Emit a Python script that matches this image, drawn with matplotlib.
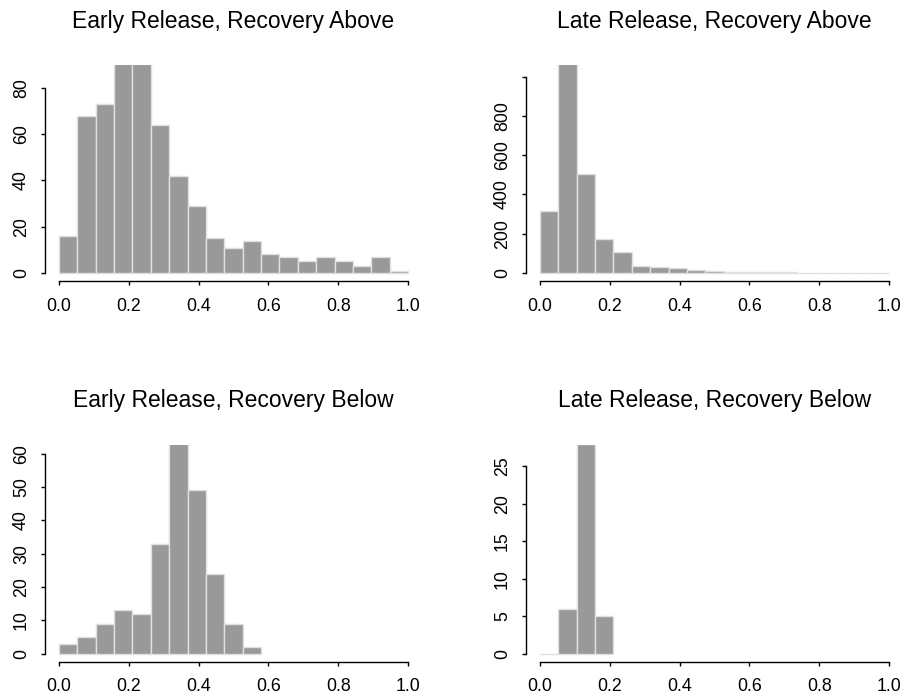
import numpy as np
import matplotlib
matplotlib.use('Agg')
import matplotlib.pyplot as plt

plt.rcParams['font.family'] = ['Liberation Sans', 'DejaVu Sans']

# 19 equal bins on [0, 1]
n_bins = 19
bin_edges = np.linspace(0, 1, n_bins + 1)

titles = [
    'Early Release, Recovery Above',
    'Late Release, Recovery Above',
    'Early Release, Recovery Below',
    'Late Release, Recovery Below',
]

counts_early_above = [16, 68, 73, 95, 94, 64, 42, 29, 15, 11, 14, 8, 7, 5, 7, 5, 3, 7, 1]
counts_late_above = [315, 1080, 502, 175, 105, 37, 32, 25, 17, 12, 7, 7, 7, 3, 1, 1, 0, 1, 0]
counts_early_below = [3, 5, 9, 13, 12, 33, 65, 49, 24, 9, 2]
counts_late_below = [0, 6, 28, 5]

yticks_early_above = [0, 20, 40, 60, 80]
yticks_late_above = [0, 200, 400, 600, 800, 1000]
ylabels_late_above = ['0', '200', '400', '600', '800', '']
yticks_early_below = [0, 10, 20, 30, 40, 50, 60]
yticks_late_below = [0, 5, 10, 15, 20, 25]
xticks = [0.0, 0.2, 0.4, 0.6, 0.8, 1.0]

panels = [
    (counts_early_above, yticks_early_above, None, 86.4),
    (counts_late_above, yticks_late_above, ylabels_late_above, 1019),
    (counts_early_below, yticks_early_below, None, 60.3),
    (counts_late_below, yticks_late_below, None, 26.8),
]

W, H = 905, 700
# plot regions in pixels: left, right, top, bottom
boxes = [
    (45, 422, 65, 281),
    (526, 903, 65, 281),
    (45, 422, 444.7, 661.7),
    (526, 903, 444.7, 661.7),
]

fig = plt.figure(figsize=(W / 100, H / 100), dpi=100)

for (counts, yt, ylab, ymax), (l, r, t, b), title in zip(panels, boxes, titles):
    ax = fig.add_axes([l / W, 1 - b / H, (r - l) / W, (b - t) / H])
    k = len(counts)
    ax.bar(bin_edges[:k], counts, width=np.diff(bin_edges)[:k], align='edge',
           color='#999999', edgecolor='#e0e0e0', linewidth=1.0)
    ax.set_xlim(-0.04, 1.04)
    ax.set_ylim(-0.04 * ymax, 1.04 * ymax)
    for s in ['top', 'right']:
        ax.spines[s].set_visible(False)
    ax.spines['left'].set_bounds(yt[0], yt[-1])
    ax.spines['bottom'].set_bounds(0, 1)
    for s in ['left', 'bottom']:
        ax.spines[s].set_linewidth(1.0)
    ax.set_xticks(xticks)
    ax.set_xticklabels(['%.1f' % v for v in xticks])
    ax.set_yticks(yt)
    if ylab is not None:
        ax.set_yticklabels(ylab)
    ax.tick_params(axis='both', direction='out', length=3, width=1.0,
                   labelsize=12.75)
    ax.tick_params(axis='x', pad=9)
    ax.tick_params(axis='y', pad=7.8)
    plt.setp(ax.get_yticklabels(), rotation=90, va='center')
    ax.set_title(title, fontsize=16.5, pad=27)

fig.savefig('out.png', dpi=100, facecolor='white')
